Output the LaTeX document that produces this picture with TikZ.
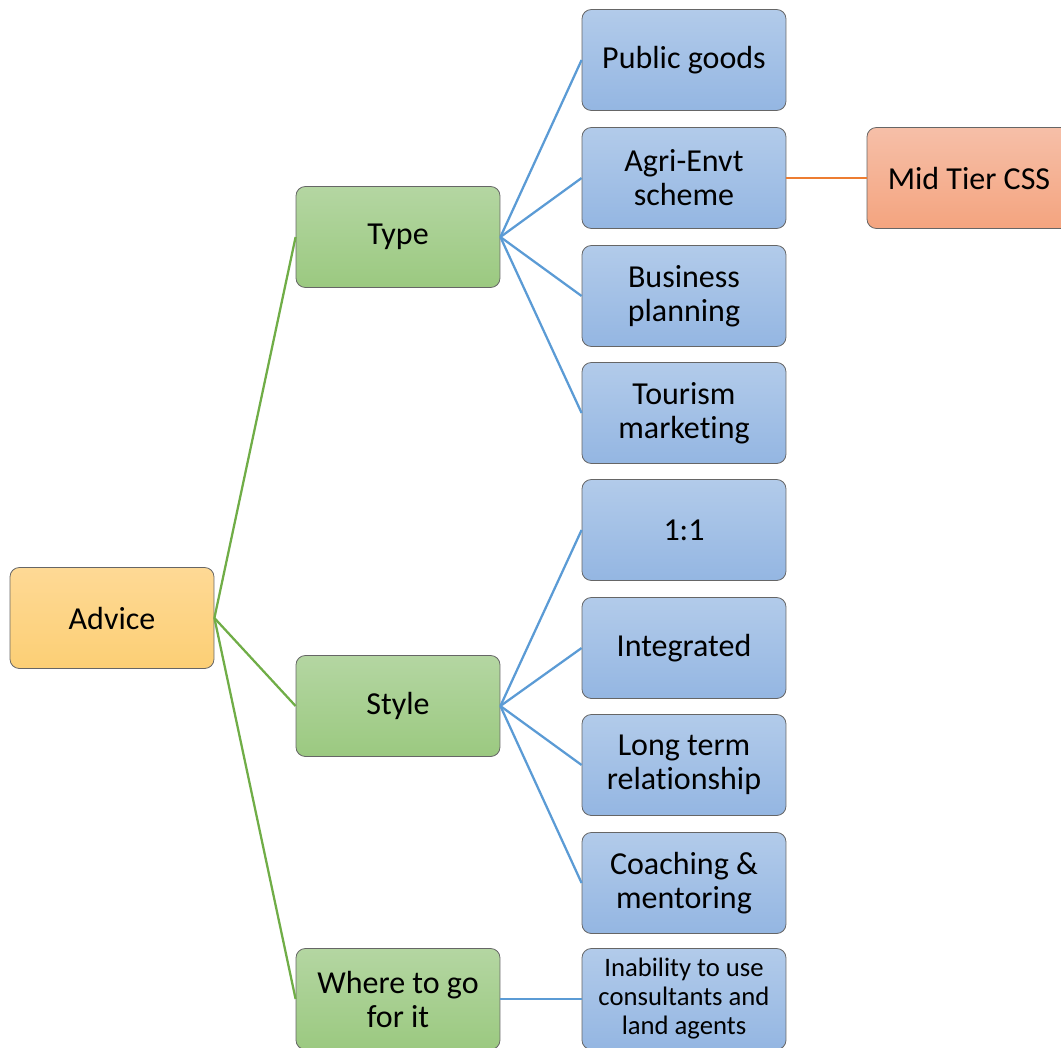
\documentclass[tikz,border=0pt]{standalone}
\usepackage{fontspec}
\setmainfont{Carlito}[Ligatures={NoCommon,NoContextual},Contextuals=NoAlternate]
\definecolor{rootTop}{HTML}{FED995}
\definecolor{rootBot}{HTML}{FCCF75}
\definecolor{midTop}{HTML}{B4D6A2}
\definecolor{midBot}{HTML}{9BC980}
\definecolor{leafTop}{HTML}{B2CBEA}
\definecolor{leafBot}{HTML}{94B6E2}
\definecolor{extTop}{HTML}{F6BFA8}
\definecolor{extBot}{HTML}{F4A47F}
\definecolor{greenLine}{HTML}{70AD47}
\definecolor{blueLine}{HTML}{5B9BD5}
\definecolor{orangeLine}{HTML}{ED7D31}
\begin{document}
\begin{tikzpicture}[x=0.75pt,y=-0.75pt,
  box/.style={draw=black!60,line width=0.6pt,rounded corners=7pt,
    minimum width=153pt,minimum height=75.75pt,align=center,inner sep=2pt,
    font=\fontsize{24}{25.5}\selectfont},
  rootbox/.style={box,top color=rootTop,bottom color=rootBot},
  midbox/.style={box,top color=midTop,bottom color=midBot},
  leafbox/.style={box,top color=leafTop,bottom color=leafBot},
  extbox/.style={box,top color=extTop,bottom color=extBot},
  gline/.style={greenLine,line width=1.7pt},
  bline/.style={blueLine,line width=1.7pt},
  oline/.style={orangeLine,line width=1.7pt}]
\useasboundingbox (0,0) rectangle (1061,1047);

% root and second level
\node[rootbox] (advice) at (112,618) {Advice};
\node[midbox] (type) at (398,237) {Type};
\node[midbox] (style) at (398,706) {Style};
\node[midbox] (where) at (398,999) {Where to go\\for it};

% leaves
\node[leafbox] (public) at (684,60) {Public goods};
\node[leafbox] (agri) at (684,178) {Agri-Envt\\scheme};
\node[leafbox] (business) at (684,296) {Business\\planning};
\node[leafbox] (tourism) at (684,413) {Tourism\\marketing};
\node[leafbox] (one) at (684,530) {1:1};
\node[leafbox] (integrated) at (684,648) {Integrated};
\node[leafbox] (longterm) at (684,765) {Long term\\relationship};
\node[leafbox] (coaching) at (684,883) {Coaching \&\\mentoring};
\node[leafbox,font=\fontsize{20}{21.75}\selectfont] (inability) at (684,999)
  {Inability to use\\consultants and\\land agents};
\node[extbox] (midtier) at (969,178) {Mid Tier CSS};

% connectors
\foreach \c in {type,style,where}
  \draw[gline] (advice.east) -- (\c.west);
\foreach \c in {public,agri,business,tourism}
  \draw[bline] (type.east) -- (\c.west);
\foreach \c in {one,integrated,longterm,coaching}
  \draw[bline] (style.east) -- (\c.west);
\draw[bline] (where.east) -- (inability.west);
\draw[oline] (agri.east) -- (midtier.west);
\end{tikzpicture}
\end{document}
